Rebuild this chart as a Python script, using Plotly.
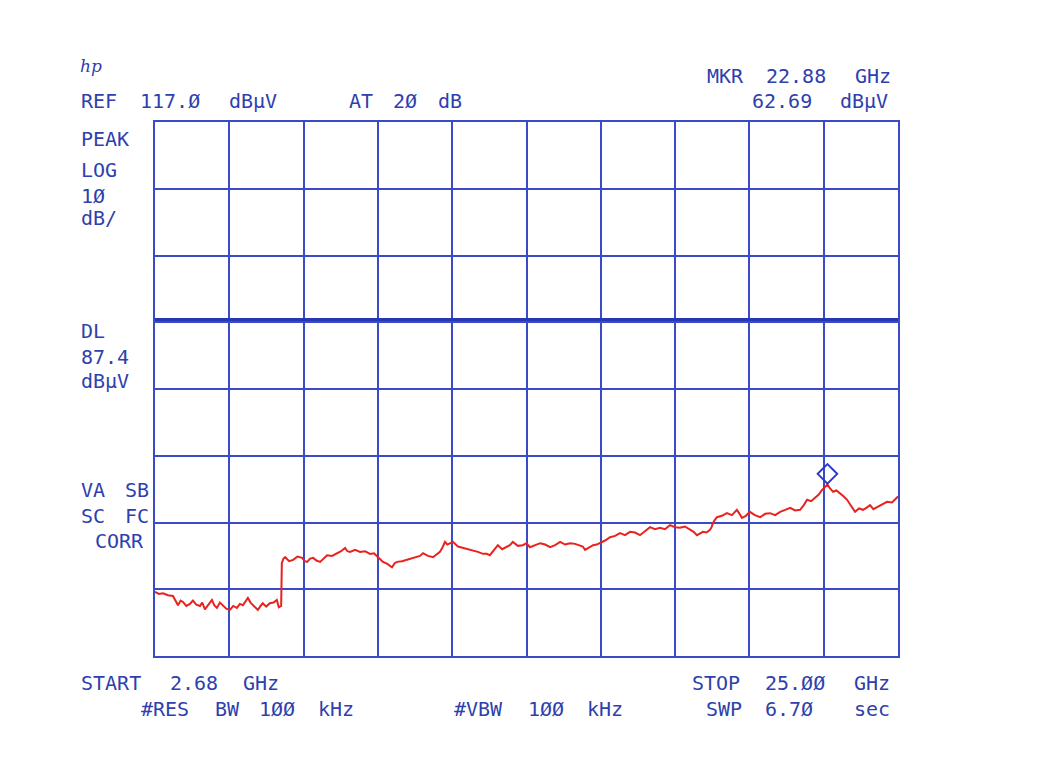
import plotly.graph_objects as go

# ---- data ----
start_ghz = 2.68
stop_ghz = 25.00
ref_level = 117.0
db_per_div = 10
n_ydiv = 8
n_xdiv = 10
display_line = 87.4
marker_freq = 22.88
marker_level = 62.69

freq_ghz = [
    2.68, 2.80, 2.92, 3.07, 3.22, 3.30, 3.37, 3.45, 3.52, 3.62, 3.73, 3.82,
    3.92, 4.03, 4.10, 4.18, 4.28, 4.39, 4.46, 4.54, 4.63, 4.72, 4.82, 4.93,
    5.03, 5.14, 5.23, 5.32, 5.40, 5.47, 5.55, 5.62, 5.70, 5.77, 5.85, 5.92,
    6.02, 6.13, 6.24, 6.34, 6.40, 6.47, 6.49,
    6.54, 6.59, 6.71, 6.83, 6.96, 7.10, 7.18, 7.25, 7.34, 7.43, 7.53, 7.64,
    7.75, 7.85, 8.00, 8.15, 8.27, 8.39, 8.46, 8.54, 8.69, 8.84, 8.99, 9.14,
    9.26, 9.38, 9.46, 9.53, 9.66, 9.80, 9.88, 9.95, 10.10, 10.25, 10.40,
    10.55, 10.64, 10.73, 10.88, 11.03, 11.13, 11.24, 11.32, 11.39, 11.46,
    11.54, 11.63, 11.78, 11.93, 12.08, 12.23, 12.38, 12.53, 12.64, 12.74,
    12.86, 12.98, 13.11, 13.25, 13.34, 13.43, 13.58, 13.73, 13.84, 13.94,
    14.10, 14.25, 14.40, 14.55, 14.70, 14.85, 15.00, 15.15, 15.30, 15.45,
    15.53, 15.60, 15.72, 15.84, 15.95, 16.05, 16.20, 16.35, 16.50, 16.65,
    16.80, 16.95, 17.10, 17.25, 17.40, 17.55, 17.70, 17.85, 18.00, 18.15,
    18.30, 18.45, 18.60, 18.76, 18.86, 18.96, 19.05, 19.14, 19.25, 19.35,
    19.40, 19.44, 19.50, 19.56, 19.71, 19.86, 20.01, 20.16, 20.24, 20.31,
    20.43, 20.55, 20.70, 20.86, 21.01, 21.16, 21.31, 21.46, 21.61, 21.76,
    21.91, 22.06, 22.17, 22.27, 22.39, 22.51, 22.62, 22.72, 22.80, 22.88,
    22.96, 23.05, 23.15, 23.26, 23.37, 23.47, 23.59, 23.71, 23.83, 23.95,
    24.05, 24.16, 24.26, 24.37, 24.52, 24.67, 24.82, 24.97, 25.00,
]
level_dbuv = [
    46.6, 46.3, 46.4, 46.1, 46.0, 45.2, 44.6, 45.3, 45.1, 44.5, 44.8, 45.3,
    44.7, 44.5, 45.0, 44.0, 44.6, 45.4, 44.6, 44.2, 45.0, 44.6, 44.1, 43.9,
    44.5, 44.2, 44.8, 44.6, 45.2, 45.7, 45.0, 44.6, 44.2, 43.9, 44.5, 44.9,
    44.4, 44.9, 45.0, 45.4, 44.3, 44.5, 50.9,
    51.6, 51.8, 51.2, 51.4, 51.9, 51.7, 51.2, 51.1, 51.6, 51.7, 51.3, 51.1,
    51.7, 52.1, 52.0, 52.4, 52.7, 53.2, 52.7, 52.6, 52.9, 52.6, 52.7, 52.3,
    52.4, 51.8, 51.5, 51.1, 50.8, 50.3, 50.9, 51.1, 51.2, 51.4, 51.6,
    51.8, 52.0, 52.4, 52.0, 51.8, 52.2, 52.6, 53.3, 54.1, 53.7,
    53.9, 54.1, 53.4, 53.2, 53.1, 52.9, 52.6, 52.3, 52.3, 52.1,
    52.8, 53.6, 53.0, 53.3, 53.6, 54.1, 53.5, 53.6, 53.9, 53.3,
    53.6, 53.9, 53.7, 53.3, 53.6, 54.1, 53.7, 53.9, 53.8, 53.6,
    53.4, 52.9, 53.3, 53.6, 53.7, 53.9, 54.3, 54.8, 55.0, 55.4,
    55.1, 55.6, 55.5, 55.1, 55.7, 56.3, 56.0, 56.2, 56.0, 56.6,
    56.3, 56.2, 56.4, 55.9, 55.6, 55.1, 55.4, 55.6, 55.5, 55.9,
    56.3, 56.9, 57.4, 57.8, 58.0, 58.4, 58.1, 58.9, 58.3, 57.7,
    58.0, 58.6, 58.1, 57.8, 58.3, 58.4, 58.1, 58.6, 58.9, 59.2,
    58.8, 58.9, 59.6, 60.4, 60.2, 60.8, 61.2, 61.9, 62.3, 62.7,
    62.1, 61.6, 61.8, 61.4, 60.9, 60.4, 59.4, 58.6, 59.1, 58.9,
    59.2, 59.6, 59.0, 59.3, 59.8, 60.1, 60.0, 60.7, 60.9,
]

# ---- styling ----
BLUE = "#3a4bc8"
TEXT_BLUE = "#2f3fae"
RED = "#e8231f"
FONT = "DejaVu Sans Mono"

W, H = 1061, 776
OFF = 8  # page body margin of the html page
L, R, T, B = 155 - OFF, 898 - OFF, 122 - OFF, 656 - OFF
bottom_level = ref_level - n_ydiv * db_per_div

fig = go.Figure()

# display line
fig.add_trace(go.Scatter(
    x=[start_ghz, stop_ghz], y=[display_line, display_line], mode="lines",
    line=dict(color="#2636b4", width=3), hoverinfo="skip", showlegend=False))

# trace
fig.add_trace(go.Scatter(
    x=freq_ghz, y=level_dbuv, mode="lines",
    line=dict(color=RED, width=2), showlegend=False))

# marker
fig.add_trace(go.Scatter(
    x=[marker_freq], y=[marker_level + 1.6], mode="markers",
    marker=dict(symbol="diamond-open", size=15, color="#2a3ad0",
                line=dict(width=2, color="#2a3ad0")),
    showlegend=False))

# ---- text ----
CELL = 14.75
annotations = []


def px_to_paper(xp, yp):
    xp -= OFF
    yp -= OFF
    return (xp - L) / (R - L), (B - yp) / (B - T)


def place(line, x_left=None, y=0, x_right=None):
    if x_left is None:
        x_left = x_right - len(line) * CELL
    idx = 0
    for word in line.split(" "):
        if word:
            xp, yp = px_to_paper(x_left + idx * CELL, y)
            annotations.append(dict(
                x=xp, y=yp, xref="paper", yref="paper", text=word,
                showarrow=False, xanchor="left", yanchor="middle",
                font=dict(family=FONT, size=20, color=TEXT_BLUE)))
        idx += len(word) + 1


place("REF 117.Ø dBµV", 79, 101)
place("AT 2Ø dB", 347, 101)
place("MKR 22.88 GHz", x_right=897, y=76)
place("62.69 dBµV", x_right=897, y=101)
place("PEAK", 79, 139)
place("LOG", 79, 170)
place("1Ø", 79, 196)
place("dB/", 79, 218)
place("DL", 79, 331)
place("87.4", 79, 357)
place("dBµV", 79, 381)
place("VA SB", 79, 490)
place("SC FC", 79, 516)
place("CORR", 93, 541)
place("START 2.68 GHz", 79, 683)
place("#RES BW 1ØØ kHz", 139, 709)
place("#VBW 1ØØ kHz", 452, 709)
place("STOP 25.ØØ GHz", x_right=896, y=683)
place("SWP 6.7Ø  sec", x_right=896, y=709)

hx, hy = px_to_paper(78, 66)
annotations.append(dict(
    x=hx, y=hy, xref="paper", yref="paper", text="<i>hp</i>",
    showarrow=False, xanchor="left", yanchor="middle",
    font=dict(family="DejaVu Serif", size=17, color=TEXT_BLUE)))

fig.update_layout(
    width=W, height=H, autosize=False,
    margin=dict(l=L, r=W - R, t=T, b=H - B, pad=0),
    paper_bgcolor="#ffffff", plot_bgcolor="#ffffff",
    annotations=annotations,
    xaxis=dict(range=[start_ghz, stop_ghz], tick0=start_ghz,
               dtick=(stop_ghz - start_ghz) / n_xdiv,
               showgrid=True, gridcolor=BLUE, gridwidth=1.5,
               showline=True, mirror=True, linecolor=BLUE, linewidth=2,
               showticklabels=False, ticks="", zeroline=False, fixedrange=True),
    yaxis=dict(range=[bottom_level, ref_level], tick0=bottom_level,
               dtick=db_per_div,
               showgrid=True, gridcolor=BLUE, gridwidth=1.5,
               showline=True, mirror=True, linecolor=BLUE, linewidth=2,
               showticklabels=False, ticks="", zeroline=False, fixedrange=True),
    showlegend=False,
)

fig.write_html("out.html")
